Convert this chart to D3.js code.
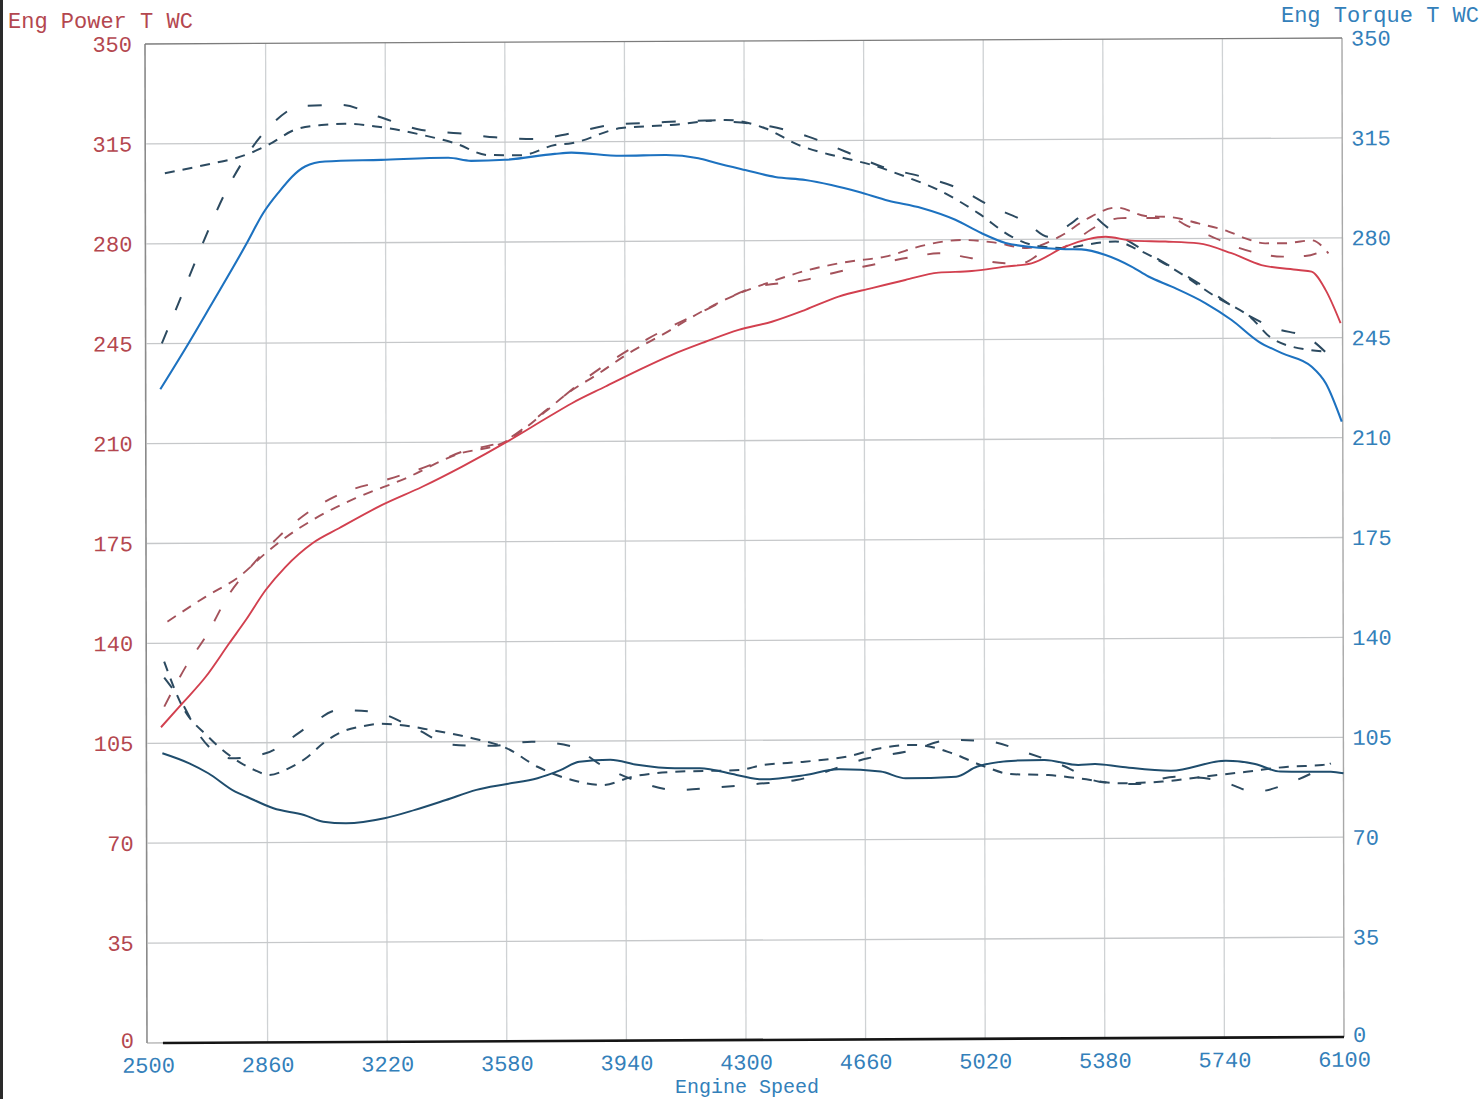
<!DOCTYPE html>
<html>
<head>
<meta charset="utf-8">
<script src="https://cdn.jsdelivr.net/npm/d3@7"></script>
<style>
  body { margin: 0; background: #fff; }
  text { font-family: "Liberation Mono", "Courier New", monospace; }
</style>
</head>
<body>
<div id="chartEl"></div>
<script>
// axis ticks
const rpmTicks = [2500, 2860, 3220, 3580, 3940, 4300, 4660, 5020, 5380, 5740, 6100];
const valueTicks = [0, 35, 70, 105, 140, 175, 210, 245, 280, 315, 350];

// blue solid - torque
const torqueRpm = [2541, 2626, 2692, 2802, 2852, 2897, 2978, 3038, 3207, 3409, 3478, 3580, 3730, 3779, 3930, 4062, 4162, 4213, 4303, 4393, 4484, 4562, 4643, 4734, 4833, 4935, 5013, 5086, 5164, 5266, 5314, 5387, 5465, 5516, 5586, 5688, 5766, 5847, 5917, 6007, 6049, 6097];
const torqueVal = [229, 245, 258, 280, 290.6, 297.6, 306.8, 308.5, 309, 309.6, 308.5, 308.8, 310.8, 311.2, 310, 310.2, 309, 307.4, 304.8, 302.3, 301.2, 299.4, 297, 293.8, 291.2, 287, 282.3, 278.8, 277.3, 276.5, 276.4, 274.4, 270.3, 266.8, 263.2, 257.3, 251.4, 243.8, 239.7, 234.9, 229.1, 215.6];

// red solid - power
const powerRpm = [2541, 2606, 2676, 2747, 2797, 2857, 2917, 2998, 3078, 3208, 3329, 3449, 3590, 3710, 3780, 3881, 3981, 4081, 4182, 4282, 4382, 4483, 4583, 4683, 4784, 4884, 4984, 5085, 5164, 5266, 5335, 5387, 5465, 5567, 5667, 5766, 5856, 5968, 6007, 6049, 6094];
const powerVal = [110.6, 119, 128.2, 139.9, 148, 158.5, 166.6, 174.8, 180, 188.1, 194.4, 201.4, 210.4, 218.7, 223.4, 229.2, 234.9, 240.2, 244.7, 248.8, 251.6, 255.7, 260.3, 263.2, 266, 268.5, 269, 270.5, 271.6, 277.4, 280, 280.8, 279.4, 279, 278.3, 274.8, 270.6, 268.8, 268.2, 261.8, 250.1];

// dark solid - lower trace
const lowRpm = [2545, 2626, 2683, 2764, 2799, 2879, 2971, 3029, 3098, 3213, 3305, 3398, 3490, 3582, 3674, 3743, 3800, 3893, 3974, 4089, 4162, 4273, 4352, 4478, 4580, 4707, 4782, 4934, 4998, 5112, 5200, 5302, 5352, 5429, 5581, 5745, 5834, 5910, 6062, 6100];
const lowVal = [101.5, 97.9, 94.4, 87.9, 86.1, 82, 79.6, 77.2, 76.6, 78.3, 81.2, 84.6, 88.1, 90.1, 92.1, 94.9, 97.8, 98.4, 96.6, 95.3, 95.3, 92.9, 91.3, 92.7, 94.7, 93.8, 91.4, 91.9, 95.4, 97.4, 97.6, 95.8, 96.1, 95.1, 93.6, 97, 95.8, 93.1, 93, 92.4];

// dashed comparison runs - torque
const torqueARpm = [2556, 2677, 2797, 2867, 2948, 3028, 3098, 3198, 3329, 3429, 3529, 3630, 3730, 3780, 3930, 4080, 4243, 4363, 4463, 4583, 4683, 4785, 4884, 5005, 5104, 5185, 5266, 5326, 5417, 5486, 5597, 5718, 5826, 5887, 5998, 6049];
const torqueAVal = [304.7, 307.5, 310.9, 314.4, 319.7, 321.3, 321.7, 320.6, 317.7, 314.7, 310.5, 310.4, 313.9, 314.5, 319.7, 320.7, 322.4, 319.4, 313.5, 309.3, 306.4, 302.2, 297.5, 289.2, 281, 277.6, 276.9, 278, 279.1, 276.1, 269, 259.6, 252, 244.9, 240.8, 240.2];
const torqueBRpm = [2546, 2596, 2641, 2687, 2737, 2797, 2872, 2967, 3088, 3198, 3329, 3439, 3550, 3670, 3780, 3900, 4032, 4182, 4252, 4381, 4493, 4604, 4713, 4833, 4944, 5043, 5146, 5215, 5285, 5330, 5396, 5516, 5667, 5787, 5898, 5998, 6052];
const torqueBVal = [245.1, 259.1, 271.9, 284.8, 297.6, 309.8, 320.9, 328, 328.3, 324.2, 319.4, 318.2, 316.7, 316, 318, 320.8, 321.6, 322.2, 321.8, 320, 316.4, 311.1, 305.8, 302.2, 298, 291.6, 286.2, 280.9, 285.6, 289, 283.8, 274.9, 264.3, 254.9, 248.4, 244.9, 239.6];

// dashed comparison runs - power
const powerARpm = [2561, 2677, 2777, 2857, 2907, 3008, 3128, 3279, 3429, 3580, 3700, 3760, 3861, 3951, 4061, 4162, 4262, 4382, 4493, 4613, 4724, 4844, 4954, 5050, 5150, 5250, 5330, 5420, 5507, 5586, 5667, 5757, 5808, 5868, 5928, 5968, 6007, 6058];
const powerAVal = [147.6, 156.3, 163.2, 171.4, 176, 183.6, 190.5, 197.4, 205.5, 210.1, 220.5, 226.3, 233.8, 240.8, 247.8, 254.7, 260.5, 265.7, 269.7, 272.5, 274.2, 278.2, 279.9, 279, 277, 281, 287, 291, 288, 287.5, 285.3, 282.4, 280, 278.2, 278.2, 278.7, 279.2, 274.6];
const powerBRpm = [2551, 2616, 2682, 2742, 2817, 2897, 2988, 3088, 3218, 3329, 3449, 3580, 3710, 3830, 4011, 4182, 4322, 4483, 4583, 4683, 4814, 4884, 4984, 5085, 5135, 5194, 5266, 5305, 5357, 5435, 5507, 5586, 5627, 5700, 5780, 5847, 5920, 5988, 6050];
const powerBVal = [117.8, 131.8, 143.4, 156.2, 167.3, 177.2, 185.9, 192.3, 196.8, 200.9, 206.6, 210.6, 221.7, 232.7, 246, 255.8, 263.4, 266.2, 269, 271.3, 274.2, 275.3, 273.5, 271.7, 271.7, 275.1, 277.4, 280.3, 284.3, 287.3, 287.3, 287.2, 284.8, 281, 277, 274.7, 273.5, 273.7, 276];

// dashed comparison runs - lower trace
const lowARpm = [2551, 2603, 2683, 2752, 2821, 2867, 2925, 2983, 3029, 3086, 3144, 3202, 3259, 3352, 3478, 3582, 3674, 3778, 3870, 3962, 4089, 4282, 4351, 4478, 4604, 4707, 4794, 4845, 4922, 5022, 5098, 5212, 5302, 5429, 5555, 5682, 5808, 5934, 6036, 6062];
const lowAVal = [133.6, 118.4, 107.2, 100.2, 95.5, 93.7, 96, 100, 104.7, 108.7, 110.5, 111.4, 111, 109.2, 106.2, 102.6, 96.1, 91.4, 89.6, 92.5, 94.1, 94.6, 96.3, 97.4, 99.1, 102, 103.1, 102.7, 100.1, 95.3, 92.7, 92.3, 91.1, 89.3, 89.8, 91.5, 93.1, 94.8, 95.3, 96.5];
const lowBRpm = [2551, 2600, 2660, 2752, 2856, 2983, 3075, 3179, 3305, 3415, 3536, 3657, 3772, 3870, 3979, 4094, 4210, 4333, 4453, 4669, 4782, 4922, 5036, 5150, 5251, 5365, 5479, 5593, 5720, 5834, 5948, 6062];
const lowBVal = [128, 120, 107.2, 99.6, 101.3, 110.5, 116.3, 115.7, 109.8, 104, 103.5, 104.9, 103.3, 96.3, 90.7, 87.7, 88.5, 89.7, 91, 98.5, 100.7, 104.8, 104.1, 100, 95.8, 89.9, 89, 91.5, 90.3, 86.1, 89.6, 95.9];

// flat zero channel along the bottom
const zeroRpm = [2545, 6100];
const zeroVal = [0, 0];

const W = 1482, H = 1099;
const redText = '#b4474f', blueText = '#3380ba';
const fontSize = '22px';

const svg = d3.select('#chartEl').append('svg')
  .attr('width', W).attr('height', H);

svg.append('rect').attr('width', W).attr('height', H).attr('fill', '#fff');
svg.append('rect').attr('x', 0).attr('y', 0).attr('width', 3).attr('height', H).attr('fill', '#2a2a2a');

// scanned page is slightly skewed
const g = svg.append('g')
  .attr('transform', 'matrix(1,-0.005,0.002,1,-2.09,0.74)');

const x = d3.scaleLinear().domain([2500, 6100]).range([148, 1344]);
const y = d3.scaleLinear().domain([0, 350]).range([1043, 44]);

// grid
g.append('g').selectAll('line.vg')
  .data(rpmTicks.slice(1, -1)).enter().append('line')
  .attr('x1', d => x(d)).attr('x2', d => x(d))
  .attr('y1', y(350)).attr('y2', y(0))
  .attr('stroke', '#cfd2d4').attr('stroke-width', 1.3);

g.append('g').selectAll('line.hg')
  .data(valueTicks.slice(1, -1)).enter().append('line')
  .attr('x1', x(2500)).attr('x2', x(6100))
  .attr('y1', d => y(d)).attr('y2', d => y(d))
  .attr('stroke', '#c6c8ca').attr('stroke-width', 1.3);

// frame
g.append('line').attr('x1', x(2500) - 1).attr('x2', x(2500) - 1).attr('y1', y(350)).attr('y2', y(0))
  .attr('stroke', '#8a8a8a').attr('stroke-width', 1.6);
g.append('line').attr('x1', x(6100)).attr('x2', x(6100)).attr('y1', y(350)).attr('y2', y(0))
  .attr('stroke', '#a8a8a8').attr('stroke-width', 1.4);
g.append('line').attr('x1', x(2500) - 1).attr('x2', x(6100)).attr('y1', y(350)).attr('y2', y(350))
  .attr('stroke', '#7c7c7c').attr('stroke-width', 1.3);
g.append('line').attr('x1', x(2500) - 1).attr('x2', x(6100)).attr('y1', y(0)).attr('y2', y(0))
  .attr('stroke', '#9a9a9a').attr('stroke-width', 1.2);

// axes (labels only)
const leftAxis = g.append('g')
  .attr('transform', 'translate(' + (x(2500) - 1) + ',0)')
  .call(d3.axisLeft(y).tickValues(valueTicks).tickSize(0).tickPadding(13));
const rightAxis = g.append('g')
  .attr('transform', 'translate(' + x(6100) + ',0)')
  .call(d3.axisRight(y).tickValues(valueTicks).tickSize(0).tickPadding(9));
const bottomAxis = g.append('g')
  .attr('transform', 'translate(0,' + y(0) + ')')
  .call(d3.axisBottom(x).tickValues(rpmTicks).tickSize(0).tickPadding(14).tickFormat(d3.format('d')));

[leftAxis, rightAxis, bottomAxis].forEach(a => {
  a.select('.domain').remove();
  a.selectAll('text').style('font-family', '"Liberation Mono", "Courier New", monospace').style('font-size', fontSize);
});
leftAxis.selectAll('text').attr('fill', redText);
rightAxis.selectAll('text').attr('fill', blueText);
bottomAxis.selectAll('text').attr('fill', blueText);
// keep the zero labels clear of the rpm labels below them
[leftAxis, rightAxis].forEach(a => {
  a.selectAll('.tick').filter(d => d === 0).select('text').attr('dy', '0.2em');
});

// series
function series (rpm, val) {
  return rpm.map((r, i) => [r, val[i]]);
}
const line = d3.line().x(d => x(d[0])).y(d => y(d[1])).curve(d3.curveMonotoneX);

const traces = [
  {data: series(zeroRpm, zeroVal), color: '#151515', width: 2.6, dash: null},
  {data: series(lowBRpm, lowBVal), color: '#2c4a60', width: 2, dash: '13,22'},
  {data: series(lowARpm, lowAVal), color: '#2c4a60', width: 2, dash: '10,8'},
  {data: series(powerBRpm, powerBVal), color: '#a4525b', width: 1.9, dash: '13,20'},
  {data: series(powerARpm, powerAVal), color: '#a4525b', width: 1.9, dash: '10,8'},
  {data: series(torqueBRpm, torqueBVal), color: '#2c4a60', width: 2, dash: '14,22'},
  {data: series(torqueARpm, torqueAVal), color: '#2c4a60', width: 2, dash: '10,8'},
  {data: series(lowRpm, lowVal), color: '#1f4d6d', width: 2, dash: null},
  {data: series(powerRpm, powerVal), color: '#d2404f', width: 1.9, dash: null},
  {data: series(torqueRpm, torqueVal), color: '#1d72c0', width: 2.1, dash: null}
];

g.selectAll('path.trace')
  .data(traces).enter().append('path')
  .attr('class', 'trace')
  .attr('d', d => line(d.data))
  .attr('fill', 'none')
  .attr('stroke', d => d.color)
  .attr('stroke-width', d => d.width)
  .attr('stroke-dasharray', d => d.dash);

// titles
svg.append('text').attr('x', 8).attr('y', 28)
  .attr('fill', redText).style('font-size', fontSize).text('Eng Power T WC');
svg.append('text').attr('x', 1479).attr('y', 22).attr('text-anchor', 'end')
  .attr('fill', blueText).style('font-size', fontSize).text('Eng Torque T WC');
svg.append('text').attr('x', 747).attr('y', 1093).attr('text-anchor', 'middle')
  .attr('fill', blueText).style('font-size', '20px').text('Engine Speed');
</script>
</body>
</html>
